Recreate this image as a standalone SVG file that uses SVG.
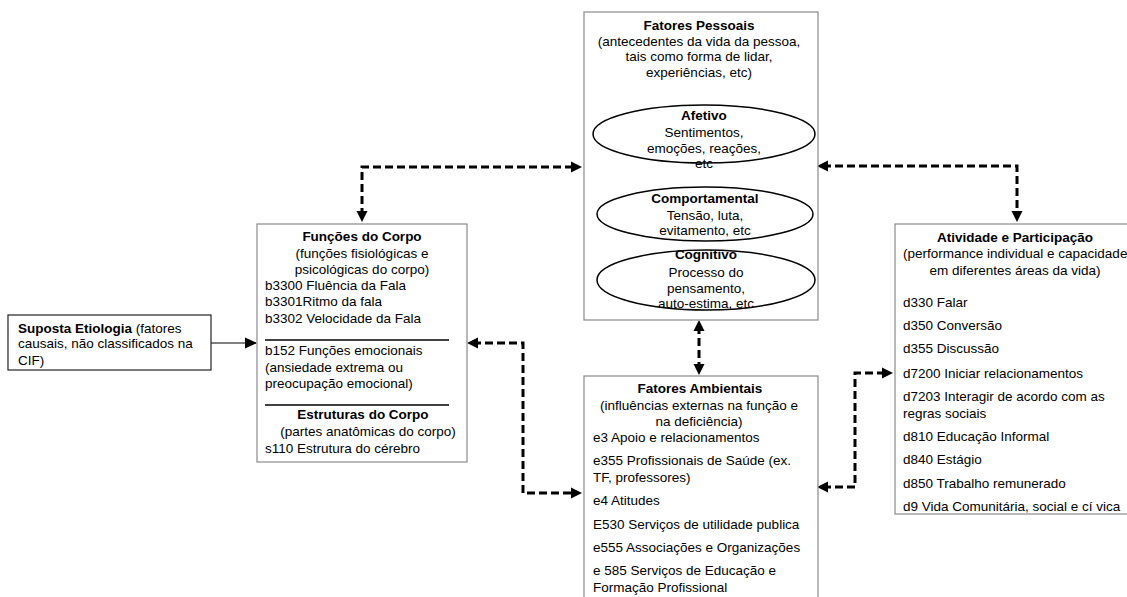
<svg xmlns="http://www.w3.org/2000/svg" width="1127" height="597" viewBox="0 0 1127 597">
<defs>
<style>
text{font-family:"Liberation Sans",Arial,sans-serif;font-size:13.5px;fill:#000}
.b{font-weight:bold}
.c{text-anchor:middle}
.box{fill:#fff;stroke:#8a8a8a;stroke-width:1.2}
.ell{fill:#fff;stroke:#000;stroke-width:1.5}
.sep{stroke:#000;stroke-width:1.5}
.dash{fill:none;stroke:#000;stroke-width:3;stroke-dasharray:8 4;marker-start:url(#ah);marker-end:url(#ah)}
</style>
<marker id="ah" markerUnits="userSpaceOnUse" markerWidth="12" markerHeight="12" viewBox="0 0 12 12" refX="5" refY="6" orient="auto-start-reverse">
<path d="M0,0.5 L11,6 L0,11.5 Z" fill="#000"/>
</marker>
<marker id="sa" markerUnits="userSpaceOnUse" markerWidth="12" markerHeight="12" viewBox="0 0 12 12" refX="11" refY="6" orient="auto">
<path d="M0,0.5 L12,6 L0,11.5 Z" fill="#000"/>
</marker>
</defs>

<g id="connectors">
<path class="dash" d="M362,216 V167 H576"/>
<path class="dash" d="M823,166 H1017 V216"/>
<path class="dash" d="M473,343 H523 V493 H576"/>
<path class="dash" d="M823,487 H855 V373 H887"/>
<path class="dash" d="M699,326 V369"/>
<path d="M211,343 H256" stroke="#000" stroke-width="1.2" fill="none" marker-end="url(#sa)"/>
</g>

<g id="fatores-pessoais">
<rect class="box" x="584" y="12" width="234" height="308"/>
<text class="b c" x="699" y="30">Fatores Pessoais</text>
<text class="c" x="699" y="46">(antecedentes da vida da pessoa,</text>
<text class="c" x="699" y="61">tais como forma de lidar,</text>
<text class="c" x="699" y="77">experiências, etc)</text>
<g id="afetivo">
<ellipse class="ell" cx="704" cy="134" rx="111" ry="29"/>
<text class="b c" x="704" y="120">Afetivo</text>
<text class="c" x="704" y="137">Sentimentos,</text>
<text class="c" x="704" y="153">emoções, reações,</text>
<text class="c" x="704" y="168">etc</text>
</g>
<g id="comportamental">
<ellipse class="ell" cx="705" cy="214" rx="108" ry="27"/>
<text class="b c" x="705" y="203">Comportamental</text>
<text class="c" x="705" y="220">Tensão, luta,</text>
<text class="c" x="705" y="235">evitamento, etc</text>
</g>
<g id="cognitivo">
<ellipse class="ell" cx="706" cy="280" rx="109" ry="30"/>
<text class="b c" x="706" y="259">Cognitivo</text>
<text class="c" x="706" y="277">Processo do</text>
<text class="c" x="706" y="293">pensamento,</text>
<text class="c" x="706" y="308">auto-estima, etc</text>
</g>
</g>

<g id="funcoes-do-corpo">
<rect class="box" x="257" y="224" width="210" height="238"/>
<text class="b c" x="362" y="241">Funções do Corpo</text>
<text class="c" x="362" y="258">(funções fisiológicas e</text>
<text class="c" x="362" y="274">psicológicas do corpo)</text>
<text x="265" y="290">b3300 Fluência da Fala</text>
<text x="265" y="306">b3301Ritmo da fala</text>
<text x="265" y="323">b3302 Velocidade da Fala</text>
<line class="sep" x1="265" y1="340" x2="449" y2="340"/>
<text x="265" y="355">b152 Funções emocionais</text>
<text x="265" y="372">(ansiedade extrema ou</text>
<text x="265" y="388">preocupação emocional)</text>
<line class="sep" x1="265" y1="405" x2="449" y2="405"/>
<text class="b c" x="363" y="419">Estruturas do Corpo</text>
<text class="c" x="368" y="436">(partes anatômicas do corpo)</text>
<text x="265" y="453">s110 Estrutura do cérebro</text>
</g>

<g id="suposta-etiologia">
<rect x="8" y="315" width="203" height="55" fill="#fff" stroke="#222" stroke-width="1.2"/>
<text x="18" y="333"><tspan class="b">Suposta Etiologia</tspan> (fatores</text>
<text x="18" y="348">causais, não classificados na</text>
<text x="18" y="365">CIF)</text>
</g>

<g id="fatores-ambientais">
<rect class="box" x="584" y="376" width="234" height="230"/>
<text class="b c" x="700" y="393">Fatores Ambientais</text>
<text class="c" x="699" y="410">(influências externas na função e</text>
<text class="c" x="699" y="426">na deficiência)</text>
<text x="593" y="442">e3 Apoio e relacionamentos</text>
<text x="593" y="465">e355 Profissionais de Saúde (ex.</text>
<text x="593" y="482">TF, professores)</text>
<text x="593" y="505">e4 Atitudes</text>
<text x="593" y="529">E530 Serviços de utilidade publica</text>
<text x="593" y="552">e555 Associações e Organizações</text>
<text x="593" y="575">e 585 Serviços de Educação e</text>
<text x="593" y="592">Formação Profissional</text>
</g>

<g id="atividade-participacao">
<rect class="box" x="895" y="224" width="240" height="290"/>
<text class="b c" x="1015" y="242">Atividade e Participação</text>
<text x="903" y="258">(performance individual e capacidade</text>
<text class="c" x="1015" y="275">em diferentes áreas da vida)</text>
<text x="903" y="307">d330 Falar</text>
<text x="903" y="330">d350 Conversão</text>
<text x="903" y="353">d355 Discussão</text>
<text x="903" y="378">d7200 Iniciar relacionamentos</text>
<text x="903" y="401">d7203 Interagir de acordo com as</text>
<text x="903" y="418">regras sociais</text>
<text x="903" y="441">d810 Educação Informal</text>
<text x="903" y="464">d840 Estágio</text>
<text x="903" y="488">d850 Trabalho remunerado</text>
<text x="903" y="511">d9 Vida Comunitária, social e cí vica</text>
</g>
</svg>
